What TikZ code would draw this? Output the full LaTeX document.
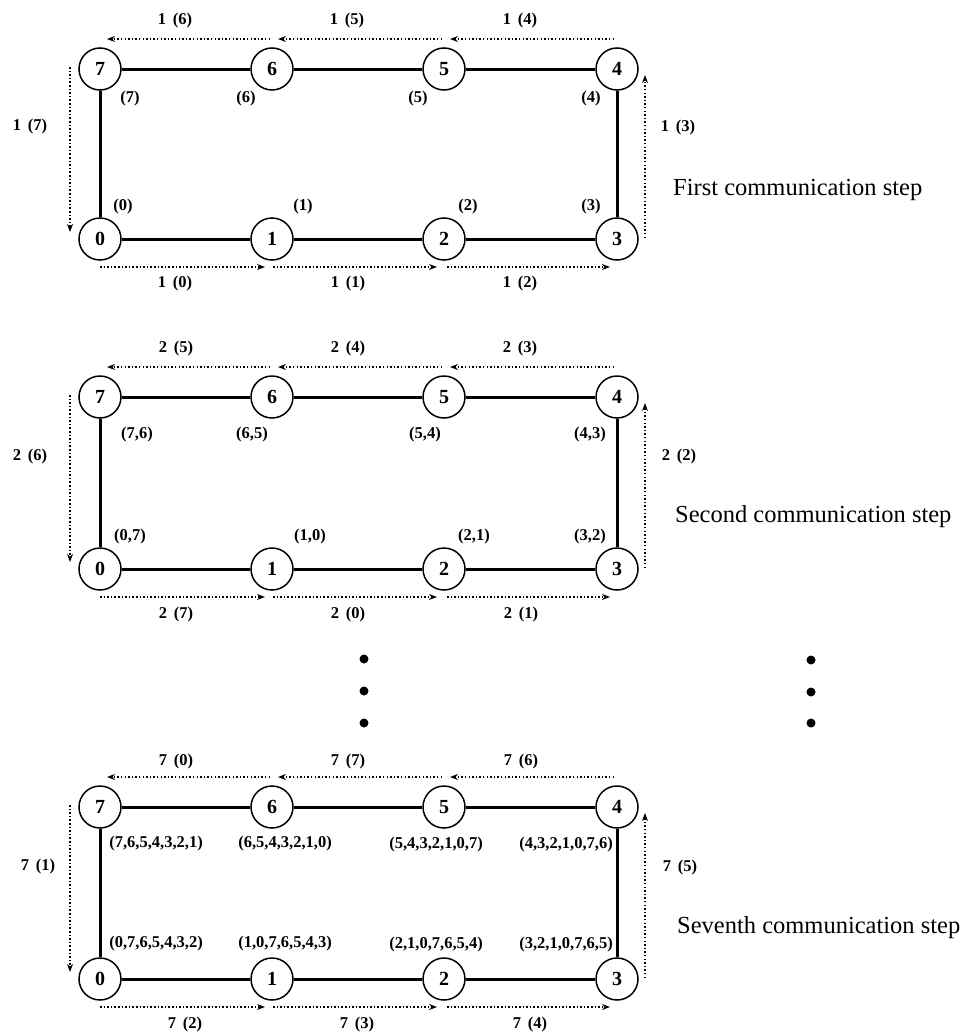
\documentclass[tikz,border=0pt]{standalone}
\usepackage{fontspec}
\setmainfont{Liberation Serif}
\usetikzlibrary{calc,arrows.meta}
\tikzset{
 proc/.style={circle,draw,line width=1.5pt,minimum size=42pt,inner sep=0pt,font=\fontsize{20}{20}\selectfont\bfseries},
 link/.style={line width=3pt},
 msg/.style={line width=1.6pt,dash pattern=on 1.5pt off 2.1pt,-{Stealth[length=8pt,width=6pt]}},
 lbl/.style={font=\fontsize{16.5}{17}\selectfont\bfseries,inner sep=0pt},
 steptitle/.style={font=\fontsize{24.5}{25}\selectfont,anchor=west,inner sep=0pt},
 bigdot/.style={circle,fill,inner sep=0pt,minimum size=9pt}
}
\newcommand\ml[2]{#1\hspace{0.4em}(#2)}
% #1 prefix, #2 top row y, #3 bottom row y
\newcommand\ringpanel[3]{%
 \node[proc] (#1n7) at (100,#2) {7};
 \node[proc] (#1n6) at (272,#2) {6};
 \node[proc] (#1n5) at (444,#2) {5};
 \node[proc] (#1n4) at (617,#2) {4};
 \node[proc] (#1n0) at (100,#3) {0};
 \node[proc] (#1n1) at (272,#3) {1};
 \node[proc] (#1n2) at (444,#3) {2};
 \node[proc] (#1n3) at (617,#3) {3};
 \draw[link] (#1n7) -- (#1n6);
 \draw[link] (#1n6) -- (#1n5);
 \draw[link] (#1n5) -- (#1n4);
 \draw[link] (#1n4) -- (#1n3);
 \draw[link] (#1n0) -- (#1n1);
 \draw[link] (#1n1) -- (#1n2);
 \draw[link] (#1n2) -- (#1n3);
 \draw[link] (#1n7) -- (#1n0);
 % message coordinates
 \coordinate (#1s45) at (614,#2-30); \coordinate (#1e45) at (450,#2-30);
 \coordinate (#1s56) at (442,#2-30); \coordinate (#1e56) at (278,#2-30);
 \coordinate (#1s67) at (270,#2-30); \coordinate (#1e67) at (107,#2-30);
 \coordinate (#1s70) at (70,#2-2);   \coordinate (#1e70) at (70,#3-7);
 \coordinate (#1s01) at (100,#3+28); \coordinate (#1e01) at (265,#3+28);
 \coordinate (#1s12) at (273,#3+28); \coordinate (#1e12) at (437,#3+28);
 \coordinate (#1s23) at (447,#3+28); \coordinate (#1e23) at (610,#3+28);
 \coordinate (#1s34) at (645,#3-1);  \coordinate (#1e34) at (645,#2+6);
 \draw[msg] (#1s45) -- (#1e45);
 \draw[msg] (#1s56) -- (#1e56);
 \draw[msg] (#1s67) -- (#1e67);
 \draw[msg] (#1s70) -- (#1e70);
 \draw[msg] (#1s01) -- (#1e01);
 \draw[msg] (#1s12) -- (#1e12);
 \draw[msg] (#1s23) -- (#1e23);
 \draw[msg] (#1s34) -- (#1e34);
}
\begin{document}
\begin{tikzpicture}[x=1pt,y=-1pt]
\useasboundingbox (0,0) rectangle (961,1036);

% ---------- first step ----------
\ringpanel{a}{69}{239}
\node[lbl] (a-m67) at (175,21) {\ml{1}{6}};
\node[lbl] (a-m56) at (347,21) {\ml{1}{5}};
\node[lbl] (a-m45) at (520,21) {\ml{1}{4}};
\node[lbl] (a-m01) at (175,284) {\ml{1}{0}};
\node[lbl] (a-m12) at (348,284) {\ml{1}{1}};
\node[lbl] (a-m23) at (520,284) {\ml{1}{2}};
\node[lbl] (a-m70) at (30,127) {\ml{1}{7}};
\node[lbl] (a-m34) at (678,128) {\ml{1}{3}};
\node[lbl] (a-l7) at (130,99) {(7)};
\node[lbl] (a-l6) at (246,99) {(6)};
\node[lbl] (a-l5) at (418,99) {(5)};
\node[lbl] (a-l4) at (591,99) {(4)};
\node[lbl] (a-l0) at (123,207) {(0)};
\node[lbl] (a-l1) at (303,207) {(1)};
\node[lbl] (a-l2) at (468,207) {(2)};
\node[lbl] (a-l3) at (591,207) {(3)};
\node[steptitle] (a-title) at (673,190) {First communication step};

% ---------- second step ----------
\ringpanel{b}{397}{569}
\node[lbl] (b-m67) at (176,349) {\ml{2}{5}};
\node[lbl] (b-m56) at (348,349) {\ml{2}{4}};
\node[lbl] (b-m45) at (520,349) {\ml{2}{3}};
\node[lbl] (b-m01) at (176,615) {\ml{2}{7}};
\node[lbl] (b-m12) at (348,615) {\ml{2}{0}};
\node[lbl] (b-m23) at (521,615) {\ml{2}{1}};
\node[lbl] (b-m70) at (30,457) {\ml{2}{6}};
\node[lbl] (b-m34) at (679,457) {\ml{2}{2}};
\node[lbl] (b-l7) at (137,435) {(7,6)};
\node[lbl] (b-l6) at (252,435) {(6,5)};
\node[lbl] (b-l5) at (425,435) {(5,4)};
\node[lbl] (b-l4) at (590,435) {(4,3)};
\node[lbl] (b-l0) at (130,537) {(0,7)};
\node[lbl] (b-l1) at (310,537) {(1,0)};
\node[lbl] (b-l2) at (474,537) {(2,1)};
\node[lbl] (b-l3) at (590,537) {(3,2)};
\node[steptitle] (b-title) at (675,517) {Second communication step};

% ---------- dots ----------
\node[bigdot] (d1) at (364,659) {};
\node[bigdot] (d2) at (364,691) {};
\node[bigdot] (d3) at (364,723) {};
\node[bigdot] (d4) at (811,660) {};
\node[bigdot] (d5) at (811,692) {};
\node[bigdot] (d6) at (811,723) {};

% ---------- seventh step ----------
\ringpanel{c}{807}{979}
\node[lbl] (c-m67) at (176,762) {\ml{7}{0}};
\node[lbl] (c-m56) at (348,762) {\ml{7}{7}};
\node[lbl] (c-m45) at (521,762) {\ml{7}{6}};
\node[lbl] (c-m01) at (185,1025) {\ml{7}{2}};
\node[lbl] (c-m12) at (357,1025) {\ml{7}{3}};
\node[lbl] (c-m23) at (530,1025) {\ml{7}{4}};
\node[lbl] (c-m70) at (38,867) {\ml{7}{1}};
\node[lbl] (c-m34) at (680,868) {\ml{7}{5}};
\node[lbl] (c-l7) at (156,844) {(7,6,5,4,3,2,1)};
\node[lbl] (c-l6) at (285,844) {(6,5,4,3,2,1,0)};
\node[lbl] (c-l5) at (436,845) {(5,4,3,2,1,0,7)};
\node[lbl] (c-l4) at (566,845) {(4,3,2,1,0,7,6)};
\node[lbl] (c-l0) at (156,944) {(0,7,6,5,4,3,2)};
\node[lbl] (c-l1) at (285,944) {(1,0,7,6,5,4,3)};
\node[lbl] (c-l2) at (436,945) {(2,1,0,7,6,5,4)};
\node[lbl] (c-l3) at (566,945) {(3,2,1,0,7,6,5)};
\node[steptitle] (c-title) at (677,928) {Seventh communication step};
\end{tikzpicture}
\end{document}
